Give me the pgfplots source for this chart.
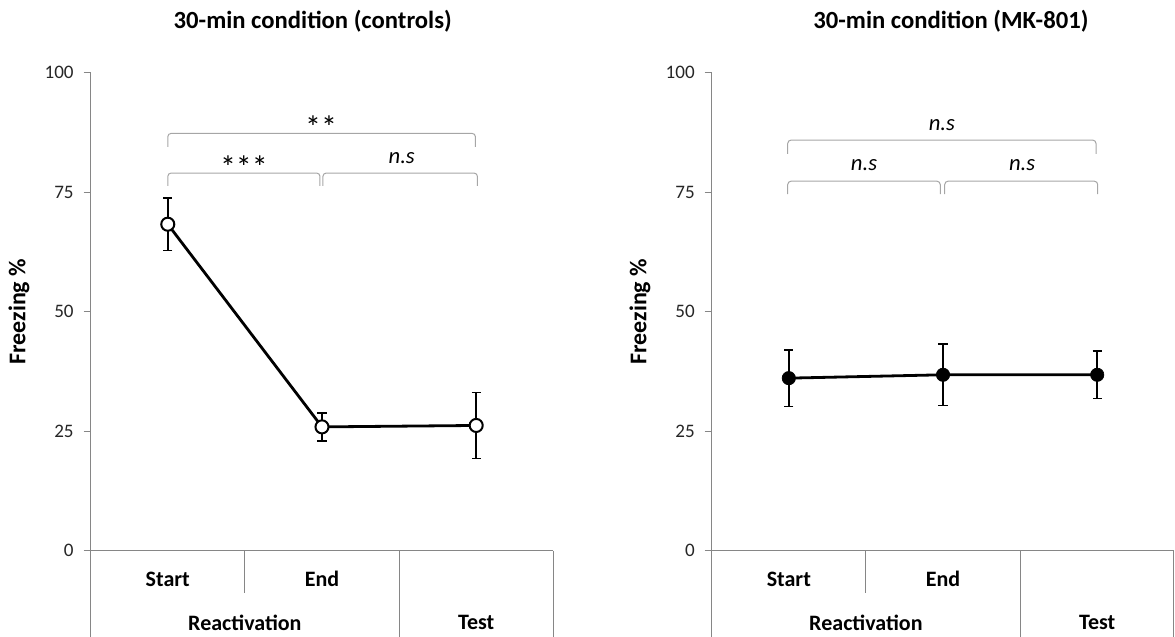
\documentclass[border=0pt]{standalone}
\usepackage{fontspec}
\setmainfont{Carlito}
\usepackage{pgfplots}
\usepackage{pgfplotstable}
\pgfplotsset{compat=1.18}
\definecolor{axgray}{HTML}{868686}
\definecolor{brgray}{HTML}{A6A6A6}

\pgfplotstableread{
x y e
0.5 68.3 5.5
1.5 25.9 2.9
2.5 26.2 6.9
}\ctrl
\pgfplotstableread{
x y e
0.5 36.1 5.9
1.5 36.8 6.4
2.5 36.8 5.0
}\mk

\pgfplotsset{
  panel/.style={
    scale only axis, width=346.95pt, height=358.5pt,
    xmin=0, xmax=3, ymin=0, ymax=100,
    axis lines*=left,
    axis line style={axgray, line width=0.75pt},
    ytick={0,25,50,75,100}, xtick=\empty,
    tick align=outside, major tick length=5.25pt,
    tick style={axgray, line width=0.75pt},
    yticklabel style={font=\fontsize{14.3}{16}\selectfont, text=black!85, xshift=-4pt},
    /pgf/number format/assume math mode=true,
    clip=false,
    ylabel={Freezing \%},
    ylabel style={at={(axis description cs:-0.155,0.5)}, anchor=center, font=\fontsize{18}{20}\selectfont\bfseries},
  },
}
\tikzset{
  table lines/.style={axgray, line width=0.75pt},
  cat/.style={font=\fontsize{16.5}{18}\selectfont\bfseries},
  br/.style={brgray, line width=0.75pt, rounded corners=2.5pt},
  sig/.style={font=\fontsize{17}{18}\selectfont, anchor=base},
  ast/.style={font=\fontsize{24}{26}\selectfont, anchor=base, inner sep=0pt},
  ttl/.style={font=\fontsize{18.5}{20}\selectfont\bfseries, anchor=center},
}

\begin{document}
\begin{tikzpicture}
\path[use as bounding box] (-68.0pt,-64.7pt) rectangle (813.2pt,413.0pt);

% ---------- left panel ----------
\begin{axis}[panel, at={(0pt,0pt)}, anchor=south west]
\addplot[black, line width=2.1pt, mark=*, mark size=4.9pt,
  mark options={fill=white, draw=black, line width=1.5pt, solid},
  error bars/.cd, y dir=both, y explicit,
  error bar style={line width=1.2pt, black},
  error mark options={rotate=90, mark size=3.4pt, line width=1.2pt, black}]
  table[x=x, y=y, y error=e] {\ctrl};

\draw[table lines] (axis cs:0,0) -- (axis cs:0,-18.4);
\draw[table lines] (axis cs:1,0) -- (axis cs:1,-8.85);
\draw[table lines] (axis cs:2,0) -- (axis cs:2,-18.4);
\draw[table lines] (axis cs:3,0) -- (axis cs:3,-18.4);
\node[cat] at (axis cs:0.5,-5.9) {Start};
\node[cat] at (axis cs:1.5,-5.9) {End};
\node[cat] at (axis cs:1,-15.1) {Reactivation};
\node[cat] at (axis cs:2.5,-15.1) {Test};

\draw[br] (axis cs:0.5,84.5) -- (axis cs:0.5,87.3) -- (axis cs:2.495,87.3) -- (axis cs:2.495,84.5);
\draw[br] (axis cs:0.5,76.3) -- (axis cs:0.5,79.0) -- (axis cs:1.487,79.0) -- (axis cs:1.487,76.3);
\draw[br] (axis cs:1.506,76.3) -- (axis cs:1.506,79.0) -- (axis cs:2.508,79.0) -- (axis cs:2.508,76.3);
\node[ast] at (axis cs:1.494,86.2) {**};
\node[ast] at (axis cs:0.994,77.9) {***};
\node[sig] at (axis cs:2.017,81.0) {\itshape n.s};

\node[ttl] at (axis description cs:0.48,1.107) {30-min condition (controls)};
\end{axis}

% ---------- right panel ----------
\begin{axis}[panel, at={(465.75pt,0pt)}, anchor=south west]
\addplot[black, line width=2.1pt, mark=*, mark size=5pt,
  mark options={fill=black, draw=black, line width=0.5pt, solid},
  error bars/.cd, y dir=both, y explicit,
  error bar style={line width=1.2pt, black},
  error mark options={rotate=90, mark size=3.4pt, line width=1.2pt, black}]
  table[x=x, y=y, y error=e] {\mk};

\draw[table lines] (axis cs:0,0) -- (axis cs:0,-18.4);
\draw[table lines] (axis cs:1,0) -- (axis cs:1,-8.85);
\draw[table lines] (axis cs:2,0) -- (axis cs:2,-18.4);
\draw[table lines] (axis cs:2.997,0) -- (axis cs:2.997,-18.4);
\node[cat] at (axis cs:0.5,-5.9) {Start};
\node[cat] at (axis cs:1.5,-5.9) {End};
\node[cat] at (axis cs:1,-15.1) {Reactivation};
\node[cat] at (axis cs:2.5,-15.1) {Test};

\draw[br] (axis cs:0.493,83.0) -- (axis cs:0.493,85.9) -- (axis cs:2.492,85.9) -- (axis cs:2.492,83.0);
\draw[br] (axis cs:0.493,74.6) -- (axis cs:0.493,77.3) -- (axis cs:1.482,77.3) -- (axis cs:1.482,74.6);
\draw[br] (axis cs:1.511,74.6) -- (axis cs:1.511,77.3) -- (axis cs:2.503,77.3) -- (axis cs:2.503,74.6);
\node[sig] at (axis cs:1.493,88.0) {\itshape n.s};
\node[sig] at (axis cs:0.988,79.6) {\itshape n.s};
\node[sig] at (axis cs:2.013,79.6) {\itshape n.s};

\node[ttl] at (axis description cs:0.517,1.107) {30-min condition (MK-801)};
\end{axis}
\end{tikzpicture}
\end{document}
